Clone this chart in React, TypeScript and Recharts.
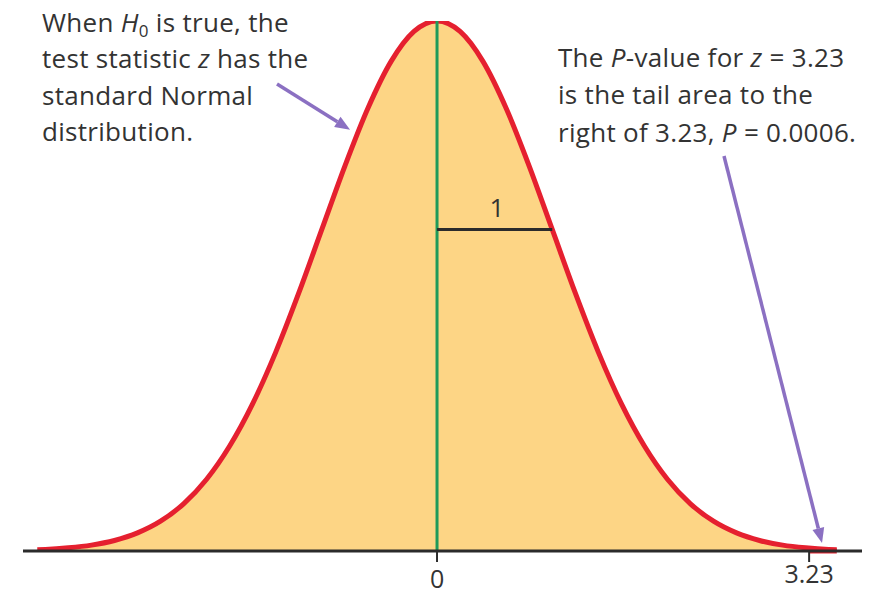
import {
  ComposedChart,
  Area,
  XAxis,
  YAxis,
  ReferenceLine,
} from 'recharts';

// standard Normal density
const zValues = [
  -3.47, -3.4, -3.2, -3.0, -2.8, -2.6, -2.4, -2.2, -2.0, -1.8, -1.6, -1.4, -1.2, -1.0,
  -0.8, -0.6, -0.4, -0.2, 0, 0.2, 0.4, 0.6, 0.8, 1.0, 1.2, 1.4, 1.6, 1.8, 2.0, 2.2,
  2.4, 2.6, 2.8, 3.0, 3.2, 3.4, 3.47,
];
const densities = [
  0.001, 0.0012, 0.0024, 0.0044, 0.0079, 0.0136, 0.0224, 0.0355, 0.054, 0.079, 0.1109,
  0.1497, 0.1942, 0.242, 0.2897, 0.3332, 0.3683, 0.391, 0.3989, 0.391, 0.3683, 0.3332,
  0.2897, 0.242, 0.1942, 0.1497, 0.1109, 0.079, 0.054, 0.0355, 0.0224, 0.0136, 0.0079,
  0.0044, 0.0024, 0.0012, 0.001,
];
const axisTicks = [0, 3.23];
const zObserved = 3.23;
const sdUnit = 1;
const peak = 0.3989;
const inflection = 0.242;

const data = zValues.map((z, i) => ({ z, d: densities[i] }));

const FONT = '"Open Sans", sans-serif';
const INK = '#333333';
const PURPLE = '#8b70c2';

// eslint-disable-next-line @typescript-eslint/no-explicit-any
function Arrow(props: any) {
  const { x1, y1, x2, y2 } = props;
  const ang = Math.atan2(y2 - y1, x2 - x1);
  const len = 15;
  const w = 6;
  const bx = x2 - len * Math.cos(ang);
  const by = y2 - len * Math.sin(ang);
  const px = -Math.sin(ang) * w;
  const py = Math.cos(ang) * w;
  return (
    <g>
      <line x1={x1} y1={y1} x2={bx} y2={by} stroke={PURPLE} strokeWidth={3.5} />
      <polygon
        points={`${x2},${y2} ${bx + px},${by + py} ${bx - px},${by - py}`}
        fill={PURPLE}
      />
    </g>
  );
}

// eslint-disable-next-line @typescript-eslint/no-explicit-any
function TickLabel(props: any) {
  const { x, y, payload } = props;
  const dy = payload.value === 0 ? 26 : 21;
  return (
    <text
      x={x}
      y={y + dy}
      textAnchor="middle"
      fontSize={25}
      fontFamily={FONT}
      fill={INK}
    >
      {payload.value === 0 ? '0' : payload.value.toFixed(2)}
    </text>
  );
}

export default function App() {
  return (
    <div
      style={{
        position: 'absolute',
        left: 0,
        top: 0,
        width: 881,
        height: 594,
        background: '#fff',
      }}
    >
      <ComposedChart
        width={881}
        height={594}
        data={data}
        margin={{ top: 21, right: 19, left: 23, bottom: 0 }}
      >
        <XAxis
          dataKey="z"
          type="number"
          domain={[-3.594, 3.689]}
          ticks={axisTicks}
          height={43}
          tickSize={11}
          tickMargin={0}
          axisLine={{ stroke: '#2b2b2b', strokeWidth: 3 }}
          tickLine={{ stroke: '#2b2b2b', strokeWidth: 2 }}
          tick={TickLabel}
          allowDataOverflow
        />
        <YAxis hide domain={[0, peak]} allowDataOverflow />
        <Area
          dataKey="d"
          type="monotone"
          stroke="#e5202f"
          strokeWidth={5}
          fill="#fdd585"
          fillOpacity={1}
          isAnimationActive={false}
        />
        <ReferenceLine
          segment={[
            { x: 0, y: 0 },
            { x: 0, y: peak },
          ]}
          stroke="#1f9a5a"
          strokeWidth={3}
        />
        <ReferenceLine
          segment={[
            { x: 0, y: inflection },
            { x: sdUnit, y: inflection },
          ]}
          stroke="#2b2b2b"
          strokeWidth={3}
        />
        <ReferenceLine
          segment={[
            { x: zObserved, y: 0 },
            { x: zObserved + 0.24, y: 0 },
          ]}
          stroke="#e5202f"
          strokeWidth={5}
        />
        <ReferenceLine
          segment={[
            { x: -1.389, y: 0.3515 },
            { x: -0.755, y: 0.317 },
          ]}
          shape={Arrow}
          ifOverflow="visible"
        />
        <ReferenceLine
          segment={[
            { x: 2.491, y: 0.2973 },
            { x: 3.342, y: 0.006 },
          ]}
          shape={Arrow}
          ifOverflow="visible"
        />
      </ComposedChart>
      <svg
        width={881}
        height={594}
        style={{ position: 'absolute', left: 0, top: 0, pointerEvents: 'none' }}
      >
        <g fontFamily={FONT} fontSize={26} fill={INK} letterSpacing={0.3}>
          <text x={42} y={32}>
            When <tspan fontStyle="italic">H</tspan>
            <tspan dy={5} fontSize={17}>0</tspan>
            <tspan dy={-5}> is true, the</tspan>
          </text>
          <text x={42} y={68}>
            test statistic <tspan fontStyle="italic">z</tspan> has the
          </text>
          <text x={42} y={105}>standard Normal</text>
          <text x={42} y={141}>distribution.</text>

          <text x={558} y={67}>
            The <tspan fontStyle="italic">P</tspan>-value for{' '}
            <tspan fontStyle="italic">z</tspan> = 3.23
          </text>
          <text x={558} y={104}>is the tail area to the</text>
          <text x={558} y={142}>
            right of 3.23, <tspan fontStyle="italic">P</tspan> = 0.0006.
          </text>
        </g>
        <text
          x={497}
          y={217}
          textAnchor="middle"
          fontFamily={FONT}
          fontSize={26}
          fill={INK}
        >
          1
        </text>
      </svg>
    </div>
  );
}
